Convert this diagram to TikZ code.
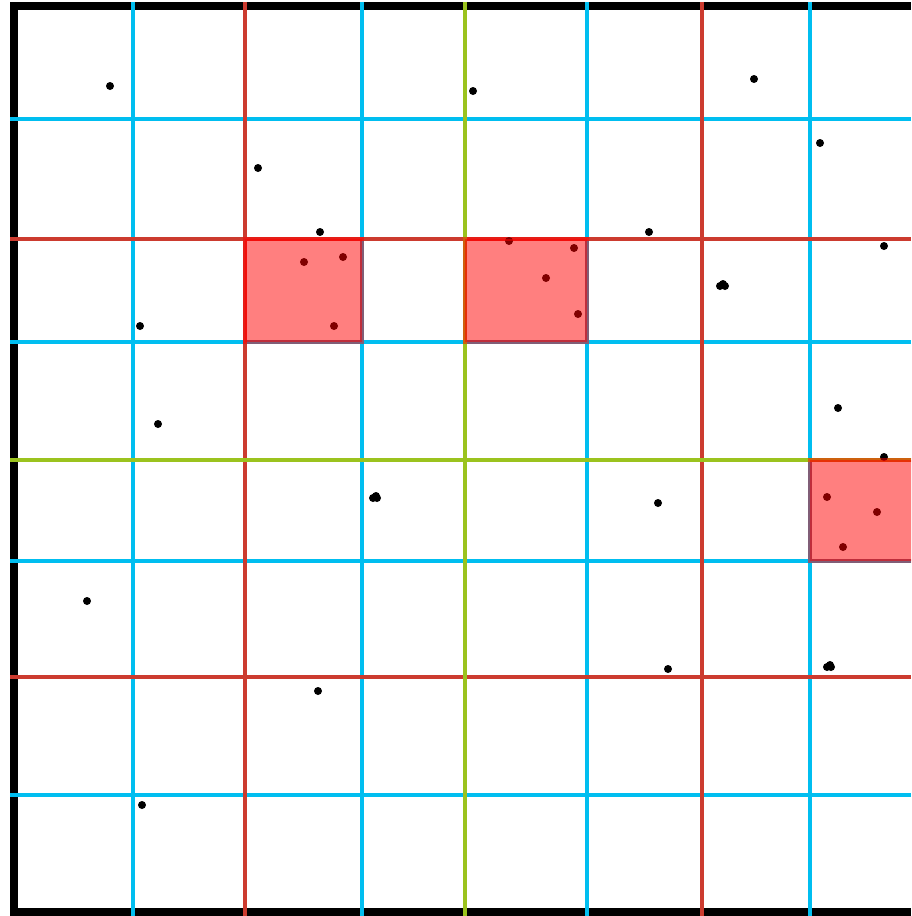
\documentclass[tikz,border=0pt]{standalone}
\definecolor{gcyan}{RGB}{0,190,240}
\definecolor{gred}{RGB}{204,59,47}
\definecolor{ggreen}{RGB}{155,195,30}
\tikzset{
  cyanline/.style={draw=gcyan,line width=3.4pt},
  redline/.style={draw=gred,line width=3.4pt},
  greenline/.style={draw=ggreen,line width=3.4pt},
  pt/.style={fill=black},
  hilite/.style={fill=red,draw=red,opacity=0.5,line width=3.4pt}
}
\begin{document}
\begin{tikzpicture}[x=1pt,y=-1pt]
\useasboundingbox (0,0) rectangle (911,916);
\fill[white] (0,0) rectangle (911,916);
% frame
\fill[black] (10,2) rectangle (911,916);
\fill[white] (18,10) rectangle (911,908);
\begin{scope}
\clip (0,0) rectangle (911,916);
% cyan lines
\foreach \x in {133,362,587,810} \draw[cyanline] (\x,2) -- (\x,916);
\foreach \y in {119,342,561,795} \draw[cyanline] (10,\y) -- (911,\y);
% red lines
\foreach \x in {245,702} \draw[redline] (\x,2) -- (\x,916);
\foreach \y in {239,677} \draw[redline] (10,\y) -- (911,\y);
% green lines
\draw[greenline] (465,2) -- (465,916);
\draw[greenline] (10,460) -- (911,460);
% points
\foreach \p in {(110,86),(473,91),(754,79),(258,168),(820,143),(320,232),(649,232),(884,246),
  (304,262),(343,257),(509,241),(574,248),(546,278),(578,314),(334,326),(140,326),
  (838,408),(158,424),(884,457),(658,503),(827,497),(877,512),(843,547),(87,601),
  (668,669),(318,691),(142,805),
  (720,286),(723,284),(725,286),
  (373,498),(376,496),(377,498),
  (827,667),(830,665),(831,667)}
  \fill[pt] \p circle (4);
% highlighted cells
\draw[hilite] (245,239) rectangle (362,342);
\draw[hilite] (465,239) rectangle (587,342);
\draw[hilite] (810,460) rectangle (914,561);
\end{scope}
\end{tikzpicture}
\end{document}
